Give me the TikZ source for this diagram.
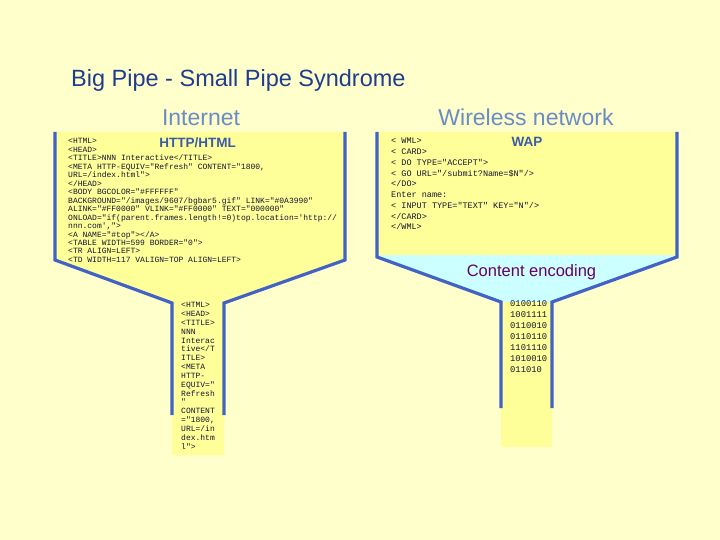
\documentclass[tikz,border=0pt]{standalone}
\usepackage{fontspec}
\setmainfont{Liberation Sans}
\newfontfamily\codefont{Liberation Mono}
\definecolor{bgc}{HTML}{FFFFCC}
\definecolor{funnelyellow}{HTML}{FFFF99}
\definecolor{lightcyan}{HTML}{CCFFFF}
\definecolor{wallblue}{HTML}{4262C6}
\definecolor{titleblue}{HTML}{1F3C8F}
\definecolor{netblue}{HTML}{6A8CC6}
\definecolor{protoblue}{HTML}{3A5AAA}
\definecolor{encpurple}{HTML}{660066}
\definecolor{codec}{HTML}{141430}
\begin{document}
\begin{tikzpicture}[x=1pt,y=-1pt,
  wall/.style={draw=wallblue,line width=3.2pt,line join=miter},
  codeL/.style={font=\codefont\fontsize{8}{8}\selectfont,anchor=base west,inner sep=0,text=codec},
  codeR/.style={font=\codefont\fontsize{8.5}{8.5}\selectfont,anchor=base west,inner sep=0,text=codec},
  bintext/.style={font=\codefont\fontsize{8.8}{8.8}\selectfont,anchor=base west,inner sep=0,text=codec},
  heading/.style={font=\fontsize{23}{26}\selectfont,text=netblue,anchor=base,inner sep=0},
  proto/.style={font=\bfseries\fontsize{13.5}{15}\selectfont,text=protoblue,anchor=base,inner sep=0}]
\fill[bgc] (0,0) rectangle (720,540);
\useasboundingbox (0,0) rectangle (720,540);
% left funnel
\coordinate (LA) at (55,132);
\coordinate (LB) at (345,132);
\coordinate (LC) at (345,260);
\coordinate (LD) at (224,303);
\coordinate (LE) at (224,415);
\coordinate (LF) at (172,415);
\coordinate (LG) at (172,303);
\coordinate (LH) at (55,260);
\fill[funnelyellow] (LA) -- (LB) -- (LC) -- (LD) -- (224,455) -- (172,455) -- (LG) -- (LH) -- cycle;
\draw[wall] (LA) -- (LH) -- (LG) -- (LF);
\draw[wall] (LB) -- (LC) -- (LD) -- (LE);
% right funnel
\coordinate (RA) at (377,132);
\coordinate (RB) at (677,132);
\coordinate (RC) at (677,257);
\coordinate (RD) at (552,302);
\coordinate (RE) at (552,408);
\coordinate (RF) at (501,408);
\coordinate (RG) at (501,302);
\coordinate (RH) at (377,257);
\fill[funnelyellow] (377,132) rectangle (677,255);
\fill[lightcyan] (377,255) -- (677,255) -- (RC) -- (RD) -- (RG) -- (RH) -- cycle;
\fill[funnelyellow] (501,302) rectangle (552,447);
\draw[wall] (RA) -- (RH) -- (RG) -- (RF);
\draw[wall] (RB) -- (RC) -- (RD) -- (RE);
% titles
\node[font=\fontsize{23.5}{26}\selectfont,text=titleblue,anchor=base west,inner sep=0] (title) at (71,87) {Big Pipe - Small Pipe Syndrome};
\node[heading] (internet) at (201,125.5) {Internet};
\node[heading] (wireless) at (526,125.5) {Wireless network};
\node[proto] (http) at (197.5,148) {HTTP/HTML};
\node[proto] (wap) at (527,146.5) {WAP};
\node[font=\fontsize{16.5}{18}\selectfont,text=encpurple,anchor=base,inner sep=0] (enc) at (531.5,276.5) {Content encoding};
% left code
\foreach \t [count=\i] in {<HTML>, <HEAD>, <TITLE>NNN Interactive</TITLE>,
  {<META HTTP-EQUIV="Refresh" CONTENT="1800,}, URL=/index.html">, </HEAD>,
  <BODY BGCOLOR="\#FFFFFF", BACKGROUND="/images/9607/bgbar5.gif" LINK="\#0A3990",
  ALINK="\#FF0000" VLINK="\#FF0000" TEXT="000000",
  ONLOAD="if(parent.frames.length!=0)top.location='http://, {nnn.com',">},
  <A NAME="\#top"></A>, <TABLE WIDTH=599 BORDER="0">, <TR ALIGN=LEFT>,
  <TD WIDTH=117 VALIGN=TOP ALIGN=LEFT>}
  \node[codeL] (hc\i) at (68,{144+8.46*(\i-1)}) {\t};
% left pipe code
\foreach \t [count=\i] in {<HTML>, <HEAD>, <TITLE>, NNN, Interac, tive</T, ITLE>,
  <META, HTTP-, EQUIV=", Refresh, ", CONTENT, {="1800,}, URL=/in, dex.htm, l">}
  \node[codeL] (pc\i) at (181,{307.6+8.85*(\i-1)}) {\t};
% right code
\foreach \t [count=\i] in {< WML>, < CARD>, < DO TYPE="ACCEPT">,
  < GO URL="/submit?Name=\$N"/>, </DO>, Enter name:,
  < INPUT TYPE="TEXT" KEY="N"/>, </CARD>, </WML>}
  \node[codeR] (wc\i) at (391,{143.8+10.75*(\i-1)}) {\t};
% binary
\foreach \t [count=\i] in {0100110, 1001111, 0110010, 0110110, 1101110, 1010010, 011010}
  \node[bintext] (bc\i) at (510,{306.8+10.9*(\i-1)}) {\t};
\end{tikzpicture}
\end{document}
